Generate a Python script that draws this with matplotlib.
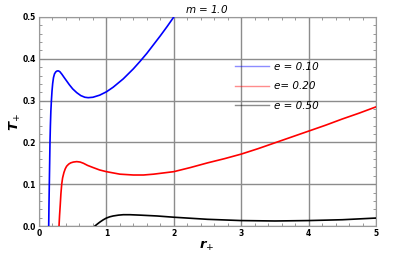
import matplotlib
matplotlib.use("Agg")
import matplotlib.pyplot as plt
from matplotlib.ticker import MultipleLocator, FormatStrFormatter

# values
r_e010 = [0.144, 0.148, 0.153, 0.158, 0.163, 0.169, 0.176, 0.184, 0.193, 0.203, 0.215, 0.23, 0.25, 0.27,
          0.29, 0.31, 0.34, 0.37, 0.41, 0.45, 0.5, 0.56, 0.62, 0.68, 0.73, 0.8, 0.9, 1.0, 1.1, 1.25,
          1.4, 1.5, 1.6, 1.7, 1.8, 1.9, 2.0]
t_e010 = [0.0, 0.05, 0.1, 0.15, 0.2, 0.24, 0.275, 0.30, 0.323, 0.341, 0.355, 0.364, 0.369, 0.371,
          0.371, 0.369, 0.363, 0.356, 0.347, 0.338, 0.328, 0.319, 0.312, 0.308, 0.307, 0.308, 0.313, 0.321, 0.332, 0.352,
          0.376, 0.394, 0.413, 0.434, 0.455, 0.477, 0.5]

r_e020 = [0.297, 0.305, 0.315, 0.325, 0.337, 0.35, 0.37, 0.39, 0.41, 0.44, 0.47, 0.51, 0.56, 0.61, 0.66,
          0.72, 0.8, 0.9, 1.0, 1.1, 1.2, 1.3, 1.4, 1.55, 1.7, 1.85, 2.0, 2.25, 2.5, 2.75, 3.0, 3.25,
          3.5, 3.75, 4.0, 4.25, 4.5, 4.75, 5.0]
t_e020 = [0.0, 0.025, 0.05, 0.077, 0.1, 0.115, 0.128, 0.137, 0.143, 0.148, 0.151, 0.153, 0.154, 0.153, 0.150,
          0.145, 0.140, 0.134, 0.130, 0.127, 0.124, 0.123, 0.122, 0.122, 0.124, 0.127, 0.13, 0.14, 0.151, 0.161, 0.172, 0.185,
          0.199, 0.213, 0.227, 0.241, 0.256, 0.27, 0.285]

r_e050 = [0.83, 0.86, 0.9, 0.95, 1.0, 1.05, 1.1, 1.18, 1.25, 1.35, 1.5, 1.75, 2.0, 2.25, 2.5, 2.75,
          3.0, 3.5, 4.0, 4.5, 5.0]
t_e050 = [0.0, 0.004, 0.009, 0.0145, 0.019, 0.022, 0.024, 0.026, 0.027, 0.027, 0.026, 0.024, 0.021, 0.0185, 0.016, 0.0145,
          0.013, 0.012, 0.013, 0.015, 0.019]

labels = ["e = 0.10", "e= 0.20", "e = 0.50"]
colours = ["#0000ff", "#ff0000", "#000000"]

fig = plt.figure(figsize=(4.15, 2.6), dpi=100)
ax = fig.add_axes([39 / 415, 1 - 226 / 260, 337 / 415, 209 / 260])

for r, t, c in zip([r_e010, r_e020, r_e050], [t_e010, t_e020, t_e050], colours):
    ax.plot(r, t, color=c, lw=1.2, zorder=3, solid_joinstyle="round")

# legend drawn with faint lines, like the original
handles = [plt.Line2D([], [], color=c, lw=1.0, alpha=0.45) for c in colours]
ax.legend(handles, labels, loc="upper left", bbox_to_anchor=(0.555, 0.83),
          frameon=False, handlelength=3.2, handletextpad=0.5, labelspacing=0.9,
          prop={"size": 7.5, "style": "italic"})

ax.set_xlim(0, 5)
ax.set_ylim(0, 0.5)
ax.xaxis.set_major_locator(MultipleLocator(1))
ax.xaxis.set_minor_locator(MultipleLocator(0.2))
ax.yaxis.set_major_locator(MultipleLocator(0.1))
ax.yaxis.set_minor_locator(MultipleLocator(0.02))
ax.yaxis.set_major_formatter(FormatStrFormatter("%.1f"))

ax.tick_params(which="both", direction="in", top=True, right=True, colors="#888888",
               labelcolor="black", labelsize=5.5, width=0.6)
ax.tick_params(which="major", length=4, pad=2)
ax.tick_params(which="minor", length=2)
for lab in ax.get_xticklabels() + ax.get_yticklabels():
    lab.set_fontweight("bold")

ax.grid(True, which="major", color="#8c8c8c", lw=1.0)
for s in ax.spines.values():
    s.set_color("#999999")
    s.set_linewidth(0.8)

fig.text(207 / 415, 1 - 9 / 260, "$m$ = 1.0", ha="center", va="center", fontsize=7.5, style="italic")
fig.text(207 / 415, 1 - 246 / 260, r"$\mathbfit{r}_{+}$", ha="center", va="center", fontsize=9.5)
fig.text(15 / 415, 1 - 122 / 260, r"$\mathbfit{T}_{+}$", ha="center", va="center",
         fontsize=9.5, rotation=90)

fig.savefig("out.png", dpi=100)
